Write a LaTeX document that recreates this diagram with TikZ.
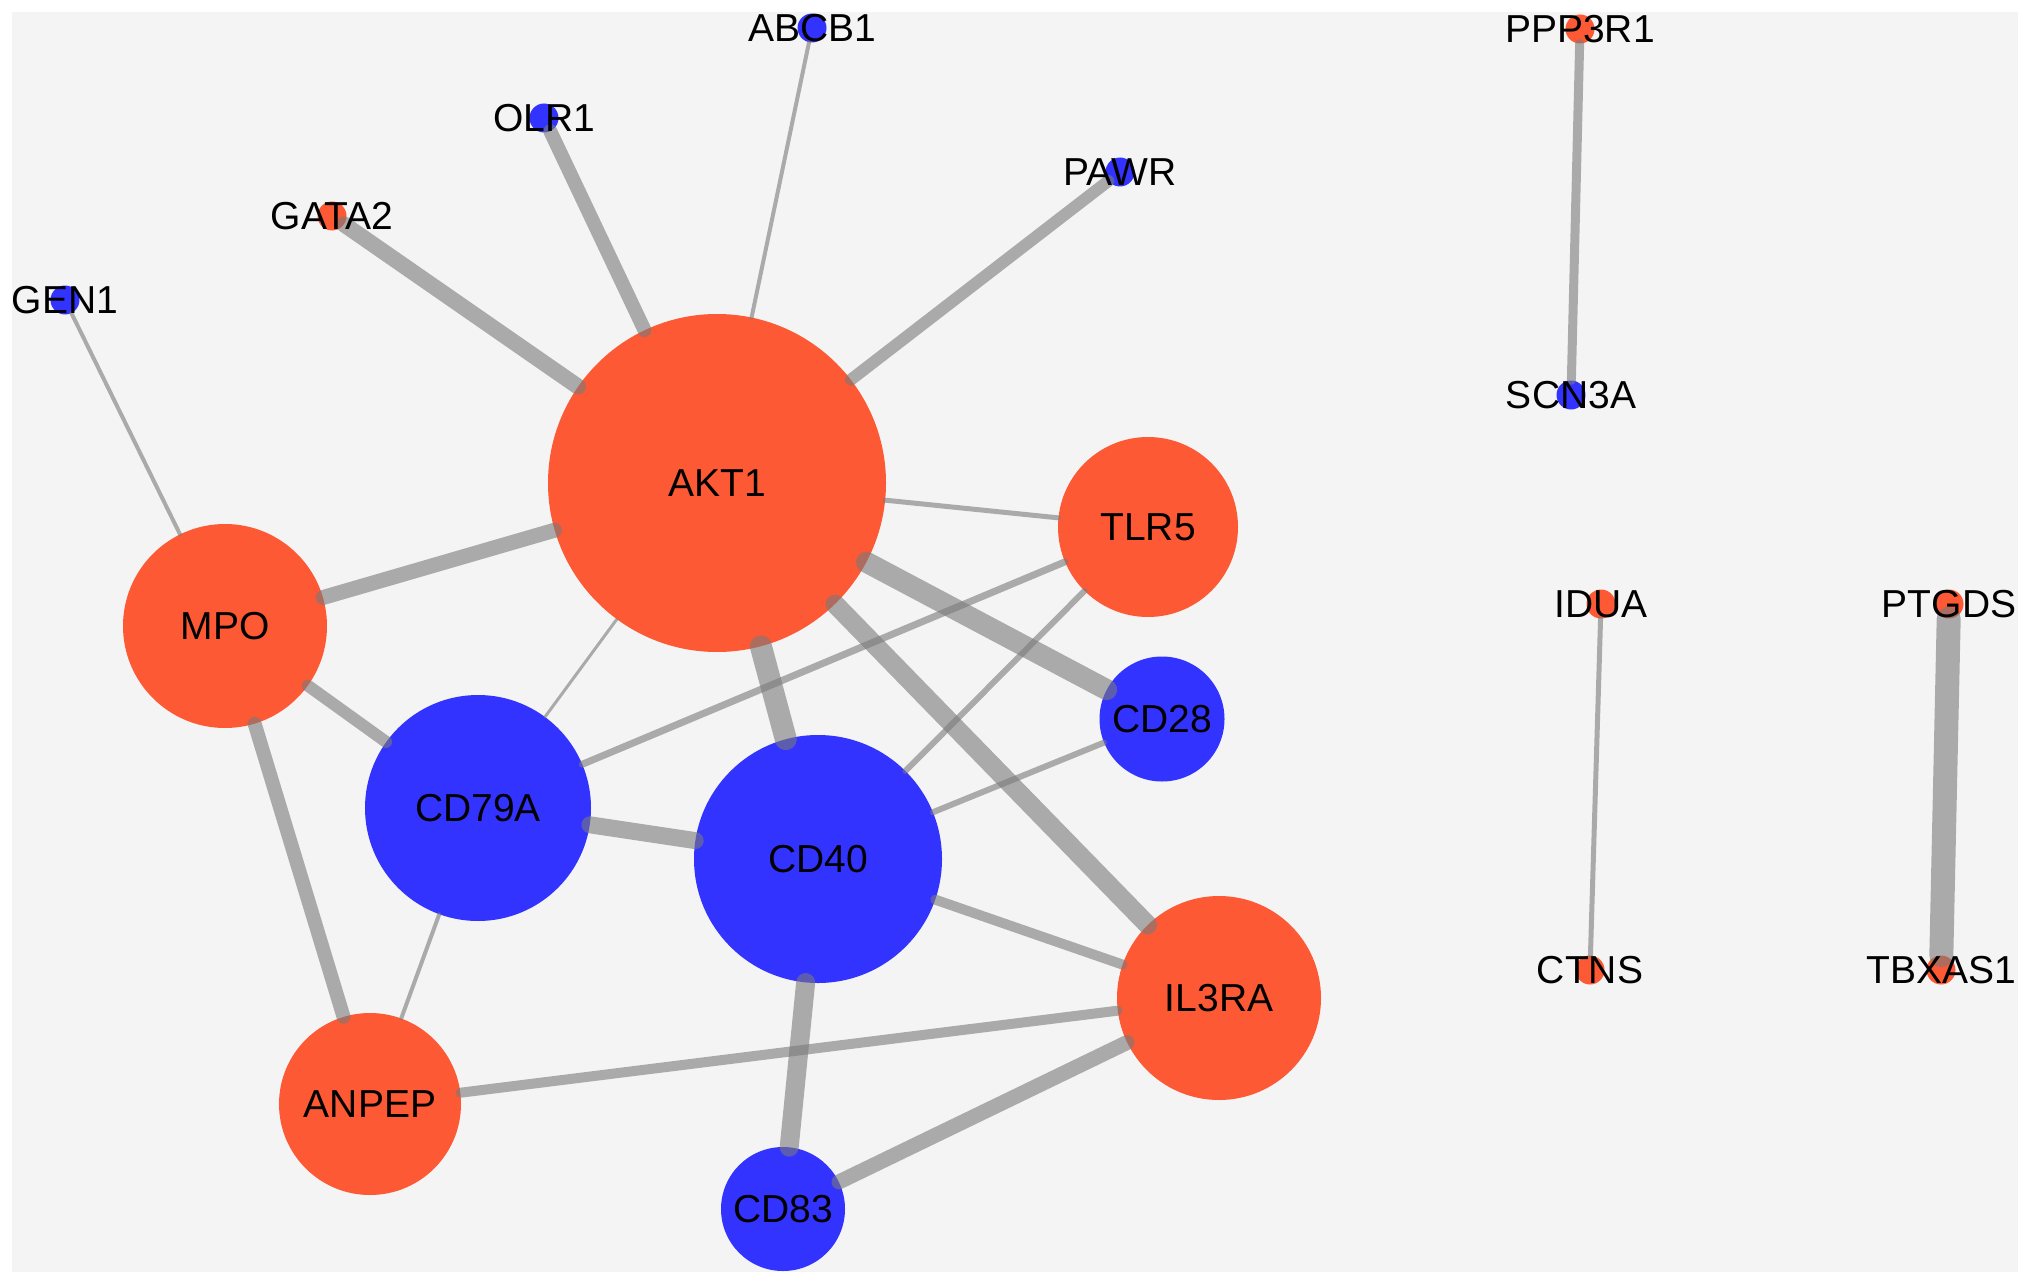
\documentclass[tikz,border=0pt]{standalone}
\usepackage{fontspec}
\setmainfont{Liberation Sans}
\definecolor{norange}{RGB}{252,89,52}
\definecolor{nblue}{RGB}{51,51,255}
\definecolor{bggray}{RGB}{244,244,244}
\definecolor{edgegray}{RGB}{122,122,122}
\begin{document}
\begin{tikzpicture}[x=1pt,y=-1pt,
  every node/.style={font=\fontsize{39}{47}\selectfont, text=black},
  onode/.style={circle, fill=norange, inner sep=0pt, minimum size=#1},
  bnode/.style={circle, fill=nblue, inner sep=0pt, minimum size=#1},
  txt/.style={inner sep=0pt},
  lnk/.style={draw=edgegray, draw opacity=0.6, line cap=round, line width=#1}]
\useasboundingbox[fill=white] (0,0) rectangle (2031,1284);
\fill[bggray] (12,12) rectangle (2018,1272);
% large nodes
\node[onode=338pt] (AKT1) at (717,483) {AKT1};
\node[onode=180pt] (TLR5) at (1148,527) {TLR5};
\node[onode=204pt] (MPO) at (225,626) {MPO};
\node[bnode=226pt] (CD79A) at (478,808) {CD79A};
\node[bnode=248pt] (CD40) at (818,859) {CD40};
\node[bnode=125pt] (CD28) at (1162,719) {CD28};
\node[onode=204pt] (IL3RA) at (1219,998) {IL3RA};
\node[onode=182pt] (ANPEP) at (370,1104) {ANPEP};
\node[bnode=124pt] (CD83) at (783,1209) {CD83};
% small nodes
\node[bnode=29pt] (ABCB1) at (812,28) {};
\node[bnode=29pt] (OLR1) at (544,118) {};
\node[bnode=29pt] (PAWR) at (1120,172) {};
\node[onode=29pt] (GATA2) at (332,216) {};
\node[bnode=29pt] (GEN1) at (65,300) {};
\node[onode=29pt] (PPP3R1) at (1580,29) {};
\node[bnode=29pt] (SCN3A) at (1571,395) {};
\node[onode=29pt] (IDUA) at (1601,604) {};
\node[onode=29pt] (CTNS) at (1590,970) {};
\node[onode=29pt] (PTGDS) at (1949,604) {};
\node[onode=29pt] (TBXAS1) at (1941,970) {};
% edges
\draw[lnk=16pt] (AKT1) -- (GATA2);
\draw[lnk=14pt] (AKT1) -- (OLR1);
\draw[lnk=4pt] (AKT1) -- (ABCB1);
\draw[lnk=12pt] (AKT1) -- (PAWR);
\draw[lnk=4pt] (GEN1) -- (MPO);
\draw[lnk=15pt] (AKT1) -- (MPO);
\draw[lnk=5pt] (AKT1) -- (TLR5);
\draw[lnk=3pt] (AKT1) -- (CD79A);
\draw[lnk=22pt] (AKT1) -- (CD40);
\draw[lnk=21pt] (AKT1) -- (CD28);
\draw[lnk=19pt] (AKT1) -- (IL3RA);
\draw[lnk=7pt] (TLR5) -- (CD79A);
\draw[lnk=6pt] (TLR5) -- (CD40);
\draw[lnk=6pt] (CD28) -- (CD40);
\draw[lnk=12pt] (MPO) -- (CD79A);
\draw[lnk=14pt] (MPO) -- (ANPEP);
\draw[lnk=17pt] (CD79A) -- (CD40);
\draw[lnk=4pt] (CD79A) -- (ANPEP);
\draw[lnk=10pt] (CD40) -- (IL3RA);
\draw[lnk=19pt] (CD40) -- (CD83);
\draw[lnk=10pt] (IL3RA) -- (ANPEP);
\draw[lnk=15pt] (IL3RA) -- (CD83);
\draw[lnk=9pt] (PPP3R1) -- (SCN3A);
\draw[lnk=5pt] (IDUA) -- (CTNS);
\draw[lnk=24pt] (PTGDS) -- (TBXAS1);
% labels of small nodes
\node[txt] (tABCB1) at (ABCB1) {ABCB1};
\node[txt] (tOLR1) at (OLR1) {OLR1};
\node[txt] (tPAWR) at (PAWR) {PAWR};
\node[txt] (tGATA2) at (GATA2) {GATA2};
\node[txt] (tGEN1) at (GEN1) {GEN1};
\node[txt] (tPPP3R1) at (PPP3R1) {PPP3R1};
\node[txt] (tSCN3A) at (SCN3A) {SCN3A};
\node[txt] (tIDUA) at (IDUA) {IDUA};
\node[txt] (tCTNS) at (CTNS) {CTNS};
\node[txt] (tPTGDS) at (PTGDS) {PTGDS};
\node[txt] (tTBXAS1) at (TBXAS1) {TBXAS1};
\end{tikzpicture}
\end{document}
